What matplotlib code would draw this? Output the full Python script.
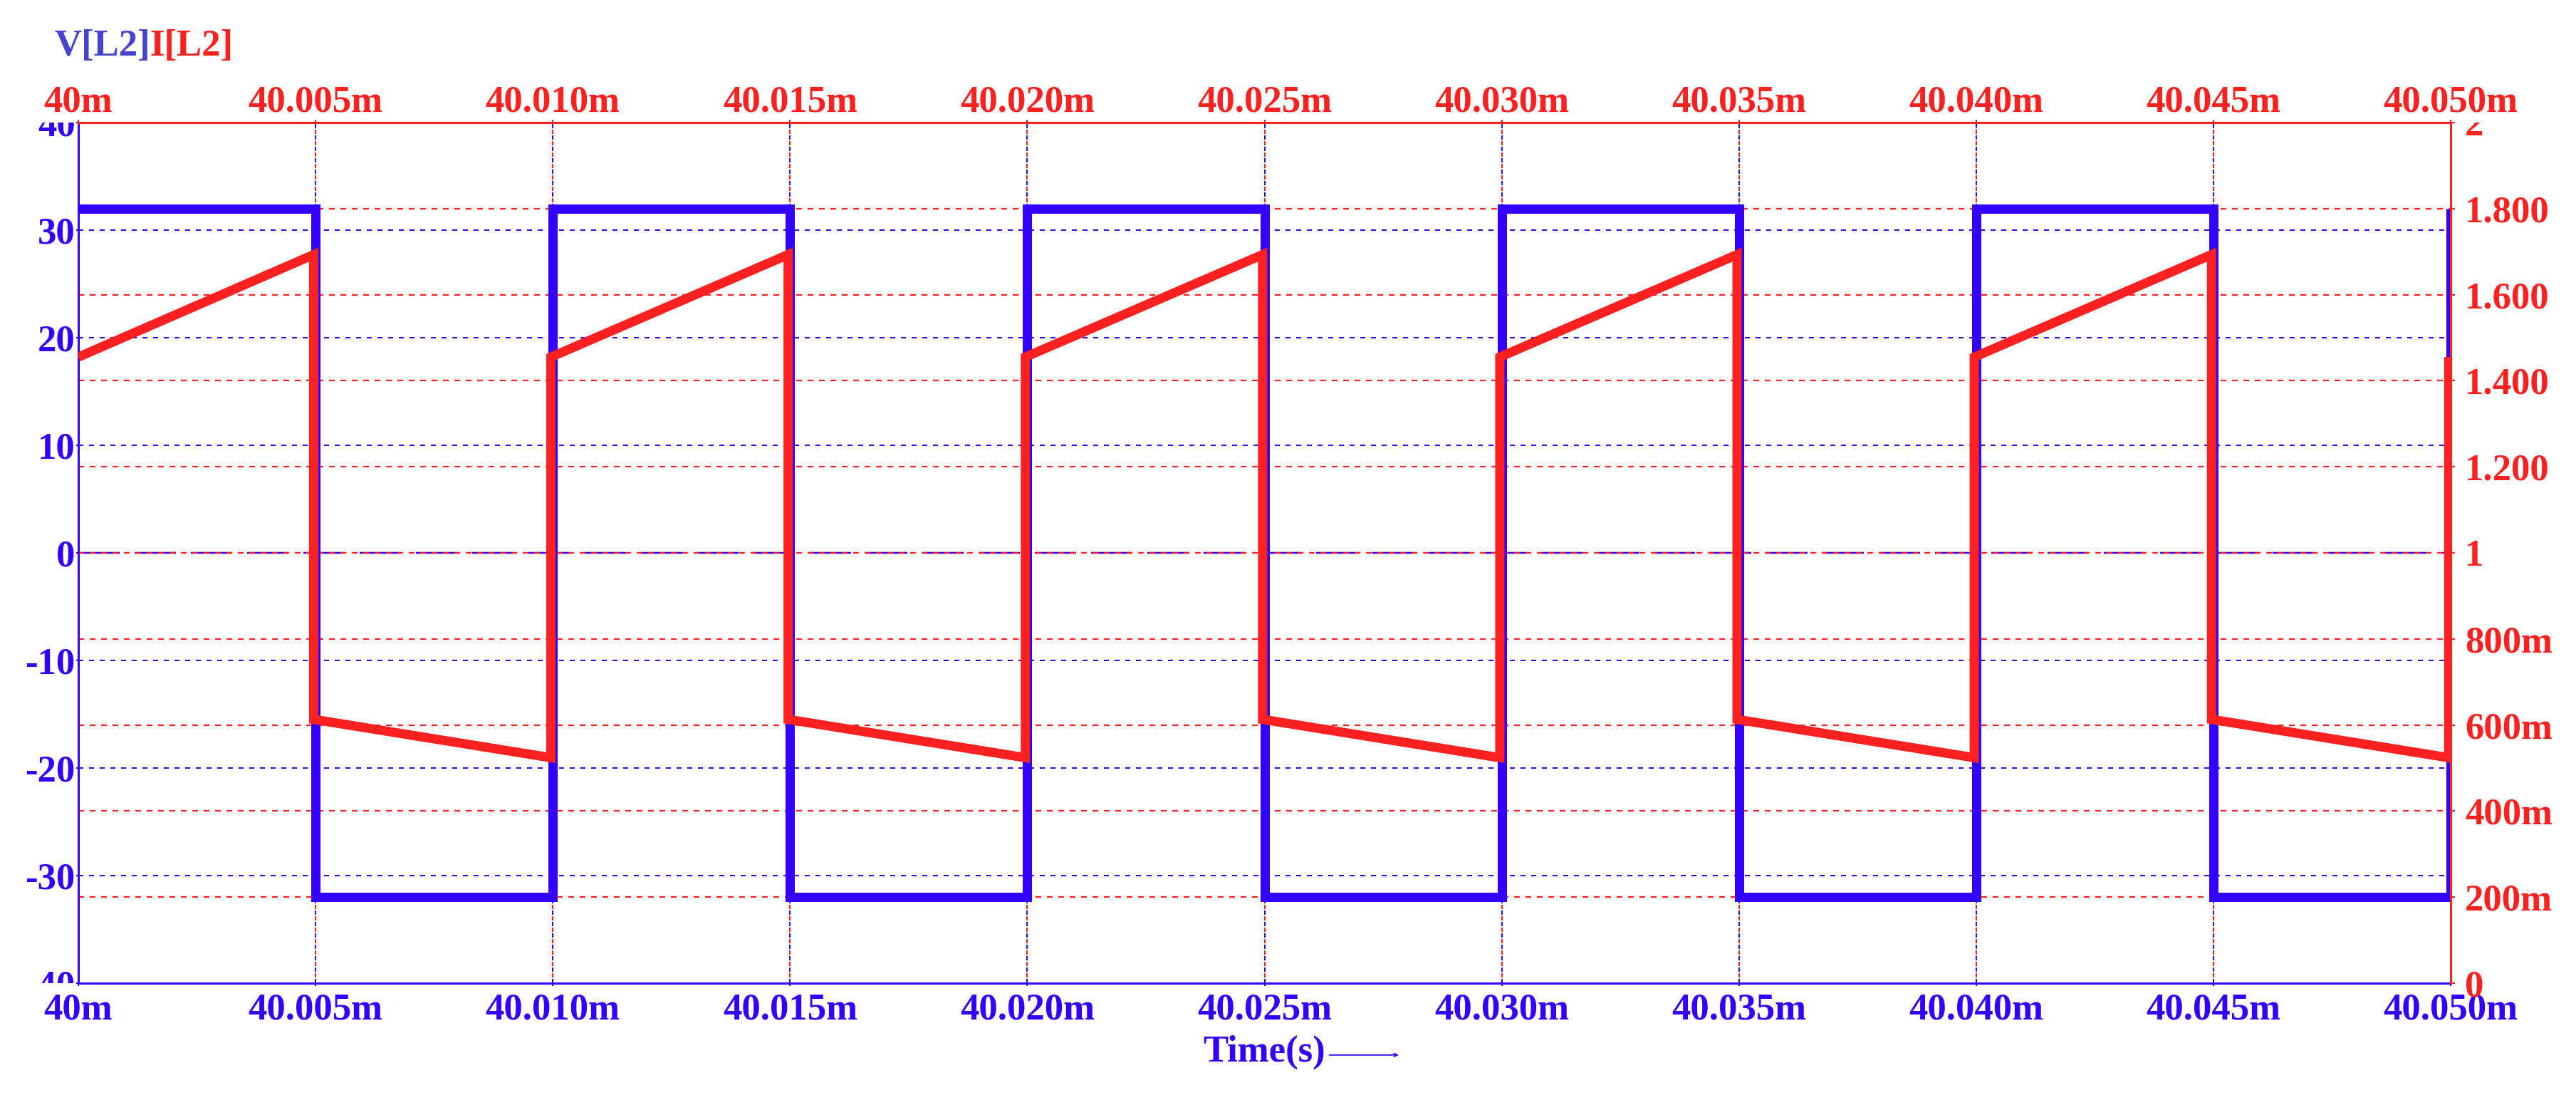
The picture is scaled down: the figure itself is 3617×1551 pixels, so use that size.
import matplotlib
matplotlib.use('Agg')
import matplotlib.pyplot as plt
from matplotlib.transforms import Bbox, TransformedBbox, blended_transform_factory

plt.rcParams['lines.scale_dashes'] = False
plt.rcParams['font.family'] = ['Liberation Serif', 'DejaVu Serif']
plt.rcParams['font.weight'] = 'bold'

BLUE = '#3300ff'
RED = '#ff2020'
TITLE_BLUE = '#4444cc'

# ---------------- data ----------------
v_time_ms = [40.000, 40.005, 40.005, 40.010, 40.010, 40.015, 40.015, 40.020, 40.020,
             40.025, 40.025, 40.030, 40.030, 40.035, 40.035, 40.040, 40.040, 40.045,
             40.045, 40.050, 40.050]
v_l2 = [32, 32, -32, -32, 32, 32, -32, -32, 32, 32, -32, -32, 32, 32, -32, -32, 32, 32,
        -32, -32, 32]

i_time_ms = [40.000, 40.00496, 40.00496, 40.00996, 40.00996, 40.01496, 40.01496,
             40.01996, 40.01996, 40.02496, 40.02496, 40.02996, 40.02996, 40.03496,
             40.03496, 40.03996, 40.03996, 40.04496, 40.04496, 40.04996, 40.04996]
i_l2 = [1.455, 1.693, 0.613, 0.524, 1.455, 1.693, 0.613, 0.524, 1.455, 1.693, 0.613,
        0.524, 1.455, 1.693, 0.613, 0.524, 1.455, 1.693, 0.613, 0.524, 1.455]

x_ticks = [40.000, 40.005, 40.010, 40.015, 40.020, 40.025, 40.030, 40.035, 40.040,
           40.045, 40.050]
x_labels = ['40m', '40.005m', '40.010m', '40.015m', '40.020m', '40.025m', '40.030m',
            '40.035m', '40.040m', '40.045m', '40.050m']
v_ticks = [-40, -30, -20, -10, 0, 10, 20, 30, 40]
v_labels = ['-40', '-30', '-20', '-10', '0', '10', '20', '30', '40']
i_ticks = [0, 0.2, 0.4, 0.6, 0.8, 1.0, 1.2, 1.4, 1.6, 1.8, 2.0]
i_labels = ['0', '200m', '400m', '600m', '800m', '1', '1.200', '1.400', '1.600',
            '1.800', '2']
v_grid = [-30, -20, -10, 10, 20, 30]
v_zero = [0]
i_grid = [0.2, 0.4, 0.6, 0.8, 1.0, 1.2, 1.4, 1.6, 1.8]
t_grid = [40.005, 40.010, 40.015, 40.020, 40.025, 40.030, 40.035, 40.040, 40.045]

# ---------------- figure ----------------
W, H = 3617, 1551
fig = plt.figure(figsize=(W / 100, H / 100), dpi=100)
L, R, T, B = 110, 3441, 172, 1380
ax = fig.add_axes([L / W, 1 - B / H, (R - L) / W, (B - T) / H])
ax2 = ax.twinx()

ax.set_xlim(x_ticks[0], x_ticks[-1])
ax.set_ylim(v_ticks[0], v_ticks[-1])
ax2.set_ylim(i_ticks[0], i_ticks[-1])

PX = 0.72  # points per pixel at dpi 100
FS = 38

# ---------- grid (all drawn on the lower axes, under both traces) ----------
t_red = blended_transform_factory(ax.transAxes, ax2.transData)
for y in v_grid:
    ax.plot([0, 1], [y, y], transform=ax.get_yaxis_transform(), color=BLUE,
            lw=2 * PX, dashes=(7 * PX, 8 * PX), zorder=1)
for y in v_zero:
    ax.plot([0, 1], [y, y], transform=ax.get_yaxis_transform(), color=BLUE,
            lw=2.5 * PX, dashes=(58 * PX, 21 * PX), zorder=1)
for y in i_grid:
    ax.plot([0, 1], [y, y], transform=t_red, color=RED,
            lw=2.2 * PX, dashes=(8 * PX, 8 * PX), dash_capstyle='butt', zorder=1.1)
for x in t_grid:
    ax.plot([x, x], [0, 1], transform=ax.get_xaxis_transform(), color=BLUE,
            lw=2 * PX, dashes=(6 * PX, 10 * PX), zorder=1)
    ax.plot([x, x], [0, 1], transform=ax.get_xaxis_transform(), color=RED,
            lw=2 * PX, dashes=(0, 8 * PX, 6 * PX, 2 * PX), zorder=1.1)

# ---------- traces ----------
ax.plot(v_time_ms, v_l2, color=BLUE, lw=13 * PX, solid_joinstyle='miter',
        solid_capstyle='butt', zorder=3)
ax2.plot(i_time_ms, i_l2, color=RED, lw=13 * PX, solid_joinstyle='miter',
         solid_capstyle='butt', zorder=3)

# ---------- spines ----------
for s in ['top', 'right']:
    ax.spines[s].set_visible(False)
for s in ['left', 'bottom']:
    ax2.spines[s].set_visible(False)
ax.spines['left'].set_color(BLUE)
ax.spines['bottom'].set_color(BLUE)
ax2.spines['top'].set_color(RED)
ax2.spines['right'].set_color(RED)
for sp in [ax.spines['left'], ax.spines['bottom'], ax2.spines['top'], ax2.spines['right']]:
    sp.set_linewidth(3 * PX)
    sp.set_zorder(5)

# ---------- ticks ----------
ax.set_xticks(x_ticks, x_labels)
ax.set_yticks(v_ticks, v_labels)
ax2.set_yticks(i_ticks, i_labels)
ax.tick_params(axis='x', colors=BLUE, labelsize=FS, length=4 * PX, width=2 * PX,
               direction='out', pad=7)
ax.tick_params(axis='y', colors=BLUE, labelsize=FS, length=3 * PX, width=2 * PX,
               direction='out', pad=1)
ax2.tick_params(axis='y', colors=RED, labelsize=FS, length=6 * PX, width=2 * PX,
                direction='out', pad=10)

sec = ax.secondary_xaxis('top')
sec.set_xticks(x_ticks, x_labels)
sec.tick_params(axis='x', colors=RED, labelsize=FS, length=4 * PX, width=2 * PX,
                direction='out', pad=0)
sec.spines['top'].set_visible(False)

for lab in ax.get_xticklabels() + ax.get_yticklabels() + ax2.get_yticklabels() + sec.get_xticklabels():
    lab.set_fontweight('bold')

# clip y tick labels to the vertical extent of the plot area
clip_left = TransformedBbox(Bbox([[-0.5, 0.0], [0.5, 1.0]]), ax.transAxes)
for tk in ax.yaxis.get_major_ticks():
    tk.label1.set_clip_box(clip_left)
    tk.label1.set_clip_on(True)
clip_right = TransformedBbox(Bbox([[0.5, -0.5], [1.5, 1.0]]), ax.transAxes)
for tk in ax2.yaxis.get_major_ticks():
    tk.label2.set_clip_box(clip_right)
    tk.label2.set_clip_on(True)

# ---------- x label with arrow ----------
ax.set_xlabel('Time(s)', color=BLUE, fontsize=FS, fontweight='bold', labelpad=8)
ax.annotate('', xy=(1.60, 0.42), xycoords=ax.xaxis.label,
            xytext=(1.03, 0.42), textcoords=ax.xaxis.label,
            arrowprops=dict(arrowstyle='->,head_length=0.35,head_width=0.15',
                            color=BLUE, lw=1.8 * PX, shrinkA=0, shrinkB=0))

# ---------- trace names ----------
t1 = fig.text(76 / W, 1 - 78 / H, 'V[L2]', color=TITLE_BLUE, fontsize=FS,
              fontweight='bold', ha='left', va='baseline')
ax.annotate('I[L2]', xy=(1, 0), xycoords=t1, xytext=(0, 0), textcoords='offset points',
            color=RED, fontsize=FS, fontweight='bold', ha='left', va='bottom',
            annotation_clip=False)

fig.savefig('out.png', dpi=100)
